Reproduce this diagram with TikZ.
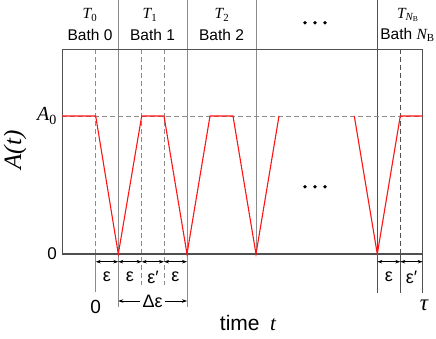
\documentclass[tikz,border=0pt]{standalone}
\usepackage{fontspec}
\setmainfont{Liberation Sans}
\newfontfamily\tnr{Liberation Serif}
\usetikzlibrary{arrows.meta}
\definecolor{axgray}{RGB}{80,80,80}
\definecolor{lngray}{RGB}{140,140,140}
\definecolor{plred}{RGB}{255,20,20}
\newcommand{\vi}[1]{{\tnr\itshape #1}}
\newcommand{\up}[1]{{\tnr #1}}

\begin{document}
\begin{tikzpicture}[x=1pt,y=-1pt,
  vline/.style={lngray, line width=0.9pt},
  dline/.style={lngray, line width=0.9pt, dash pattern=on 5pt off 3pt},
  dim/.style={{Stealth[length=5pt,width=3.5pt]}-{Stealth[length=5pt,width=3.5pt]}, line width=0.7pt},
  lbl/.style={font=\fontsize{15.5}{17}\selectfont, inner sep=0pt},
  eps/.style={font=\fontsize{18}{20}\selectfont, inner sep=0pt}]
  \useasboundingbox (0,0) rectangle (436,338);

  % Time marks
  \coordinate (x0) at (95.7,0);
  \coordinate (x1) at (118.3,0);
  \coordinate (x2) at (141.7,0);
  \coordinate (x3) at (164,0);
  \coordinate (x4) at (187,0);
  \coordinate (x7) at (256,0);
  \coordinate (xb) at (377.3,0);
  \coordinate (xc) at (400.3,0);
  \coordinate (xr) at (422.7,0);

  % Bath borders
  \draw[vline] (x1) -- (118.3,307);
  \draw[vline] (x4) -- (187,307);
  \draw[vline] (x7) -- (256,254);
  \draw[axgray, line width=0.8pt] (xb) -- (377.3,293);
  \draw[axgray, line width=0.8pt] (422.7,254) -- (422.7,293);

  % Dashed marks
  \draw[dline] (95.7,49) -- (95.7,254);
  \draw[vline] (95.7,254) -- (95.7,292);
  \draw[dline] (141.7,49) -- (141.7,285);
  \draw[dline] (164,49) -- (164,285);
  \draw[axgray, line width=0.8pt, dash pattern=on 5pt off 3pt] (400.3,49) -- (400.3,254);
  \draw[axgray, line width=0.8pt] (400.3,254) -- (400.3,293);

  % A0 level
  \draw[dline] (62,116) -- (422.7,116);

  % Frame
  \draw[axgray, line width=0.8pt] (62,254) -- (62,49) -- (422.7,49) -- (422.7,254);
  \draw[axgray, line width=1.4pt] (62,254) -- (422.7,254);

  % A(t)
  \draw[plred, line width=1.1pt, line join=miter] (62,116) -- (95.7,116) -- (118.3,254) -- (141.7,116) -- (164,116)
    -- (187,254) -- (210,116) -- (233,116) -- (256,254) -- (279,116);
  \draw[plred, line width=1.1pt, line join=miter] (354.3,116) -- (377.3,254) -- (400.3,116) -- (422.7,116);

  % Headers
  \node[lbl] (tt0) at (90,15) {\vi{T}\textsubscript{\up{0}}};
  \node[lbl] (bath0) at (90,35) {Bath 0};
  \node[lbl] (tt1) at (150,15) {\vi{T}\textsubscript{\up{1}}};
  \node[lbl] (bath1) at (152.5,35) {Bath 1};
  \node[lbl] (tt2) at (222,15) {\vi{T}\textsubscript{\up{2}}};
  \node[lbl] (bath2) at (221.5,35) {Bath 2};
  \foreach \x in {305,315,325} \fill (\x,22.7) circle (1.9);
  \node[lbl] (ttn) at (408,15) {\vi{T}\textsubscript{\vi{N}\textsubscript{\up{B}}}};
  \node[lbl] (bathn) at (407.5,35) {Bath \vi{N}\textsubscript{\up{B}}};

  % Plot dots
  \foreach \x in {305,315,325} \fill (\x,186.7) circle (1.9);

  % Axis labels
  \node[font=\fontsize{20}{22}\selectfont, inner sep=0pt] (a0) at (47,116) {\vi{A}\textsubscript{\up{0}}};
  \node[font=\fontsize{17}{19}\selectfont, inner sep=0pt] (zero) at (52,254) {0};
  \node[font=\fontsize{25}{27}\selectfont, inner sep=0pt, rotate=90] (alab) at (15,150) {\vi{A(t)}};

  % Interval arrows
  \draw[dim] (95.7,261.7) -- (118.3,261.7);
  \draw[dim] (118.3,261.7) -- (141.7,261.7);
  \draw[dim] (141.7,261.7) -- (164,261.7);
  \draw[dim] (164,261.7) -- (187,261.7);
  \draw[dim] (377.3,261.7) -- (400.3,261.7);
  \draw[dim] (400.3,261.7) -- (422.7,261.7);
  \node[eps] (e1) at (107,277) {ε};
  \node[eps] (e2) at (130,277) {ε};
  \node[eps] (e3) at (153,277) {ε′};
  \node[eps] (e4) at (175.5,277) {ε};
  \node[eps] (e5) at (389,277) {ε};
  \node[eps] (e6) at (411.5,277) {ε′};

  % Bath period
  \node[eps, inner xsep=2pt] (de) at (152.6,301) {Δε};
  \draw[-{Stealth[length=5pt,width=3.5pt]}, line width=0.7pt] (de.west) -- (118.3,301);
  \draw[-{Stealth[length=5pt,width=3.5pt]}, line width=0.7pt] (de.east) -- (187,301);

  % Time labels
  \node[font=\fontsize{19}{21}\selectfont, inner sep=0pt] (t0) at (95.7,307) {0};
  \node[font=\fontsize{23}{25}\selectfont, inner sep=0pt] (tau) at (424,305) {\vi{τ}};
  \node[font=\fontsize{21}{23}\selectfont, inner sep=0pt] (time) at (248,323) {time\enspace\vi{t}};
\end{tikzpicture}
\end{document}
